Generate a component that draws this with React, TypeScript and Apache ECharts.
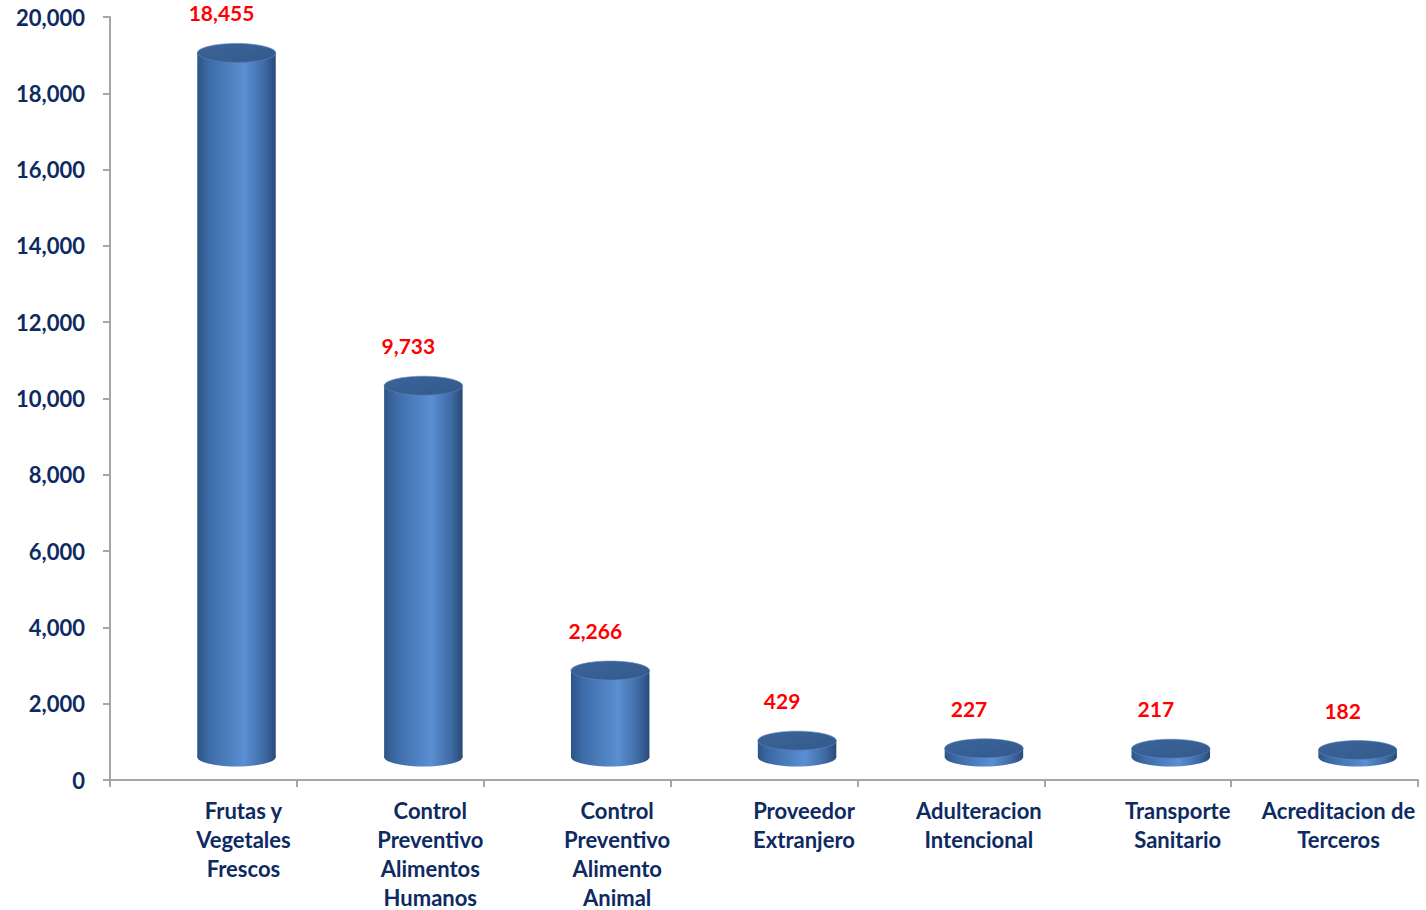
import React, { useEffect, useRef } from "react";
import * as echarts from "echarts";

const categories = [
  "Frutas y\nVegetales\nFrescos",
  "Control\nPreventivo\nAlimentos\nHumanos",
  "Control\nPreventivo\nAlimento\nAnimal",
  "Proveedor\nExtranjero",
  "Adulteracion\nIntencional",
  "Transporte\nSanitario",
  "Acreditacion de\nTerceros",
];
const values = [18455, 9733, 2266, 429, 227, 217, 182];
const yMin = 0;
const yMax = 20000;
const yInterval = 2000;

const NAVY = "#0E2A62";
const FONT = "Lato, 'Open Sans', sans-serif";

export default function App() {
  const ref = useRef<HTMLDivElement>(null);
  useEffect(() => {
    if (!ref.current) return;
    const chart = echarts.init(ref.current, null, { renderer: "svg" });
    const bodyGrad = new echarts.graphic.LinearGradient(0, 0, 1, 0, [
      { offset: 0, color: "#2E5486" },
      { offset: 0.15, color: "#3D6BA8" },
      { offset: 0.6, color: "#5A8FD2" },
      { offset: 0.85, color: "#3F6BA6" },
      { offset: 1, color: "#2A4A78" },
    ]);
    const topGrad = new echarts.graphic.LinearGradient(0, 0, 1, 1, [
      { offset: 0, color: "#3C6499" },
      { offset: 1, color: "#345A8C" },
    ]);
    const labelStyle = { fontSize: 22, fontWeight: "bold", color: NAVY, fontFamily: FONT, lineHeight: 29 };
    chart.setOption({
      animation: false,
      grid: { left: 110, right: 8, top: 17, bottom: 130 },
      xAxis: {
        type: "category",
        data: categories,
        boundaryGap: true,
        axisLine: { lineStyle: { color: "#A6A6A6", width: 2 } },
        axisTick: { show: true, length: 7, lineStyle: { color: "#A6A6A6", width: 2 } },
        axisLabel: {
          interval: 0,
          margin: 16,
          formatter: (v: string, i: number) => {
            const k = i === 6 ? "e" : i === 4 ? "m" : "s";
            return v
              .split("\n")
              .map((l) => `{${k}|${l}}`)
              .join("\n");
          },
          rich: {
            s: { ...labelStyle, padding: [0, 0, 0, 80] },
            m: { ...labelStyle, padding: [0, 0, 0, 56] },
            e: { ...labelStyle, padding: [0, 0, 0, 28] },
          },
        },
      },
      yAxis: {
        type: "value",
        min: yMin,
        max: yMax,
        interval: yInterval,
        splitLine: { show: false },
        axisLine: { show: true, lineStyle: { color: "#A6A6A6", width: 2 } },
        axisTick: { show: true, length: 7, lineStyle: { color: "#A6A6A6", width: 2 } },
        axisLabel: {
          margin: 25,
          fontSize: 22,
          fontWeight: "bold",
          color: NAVY,
          fontFamily: FONT,
          formatter: (v: number) => v.toLocaleString("en-US"),
        },
      },
      series: [
        {
          type: "custom",
          data: values.map((v, i) => [i, v]),
          encode: { x: 0, y: 1 },
          renderItem: (params: any, api: any) => {
            const x = api.value(0);
            const v = api.value(1);
            const top = api.coord([x, v]);
            const base = api.coord([x, 0]);
            const band = api.size([1, 0])[0];
            const w = band * 0.42;
            const cx = top[0] + band * 0.177;
            const depth = 23;
            const ry = 9.5;
            const yTop = top[1] - depth;
            const yBase = base[1] - depth;
            return {
              type: "group",
              children: [
                {
                  type: "ellipse",
                  shape: { cx, cy: yBase, rx: w / 2, ry },
                  style: { fill: bodyGrad },
                },
                {
                  type: "rect",
                  shape: { x: cx - w / 2, y: yTop, width: w, height: yBase - yTop },
                  style: { fill: bodyGrad },
                },
                {
                  type: "ellipse",
                  shape: { cx, cy: yTop, rx: w / 2, ry },
                  style: { fill: topGrad, stroke: "#5A84BC", lineWidth: 0.6 },
                },
                {
                  type: "text",
                  x: cx - band * 0.08,
                  y: yTop - 40,
                  style: {
                    text: Number(v).toLocaleString("en-US"),
                    fill: "#FF0000",
                    font: `bold 21px ${FONT}`,
                    align: "center",
                    verticalAlign: "middle",
                  },
                },
              ],
            };
          },
        },
      ],
    });
    return () => chart.dispose();
  }, []);
  return <div ref={ref} style={{ width: 1426, height: 910, position: "absolute", left: 0, top: 0 }} />;
}
